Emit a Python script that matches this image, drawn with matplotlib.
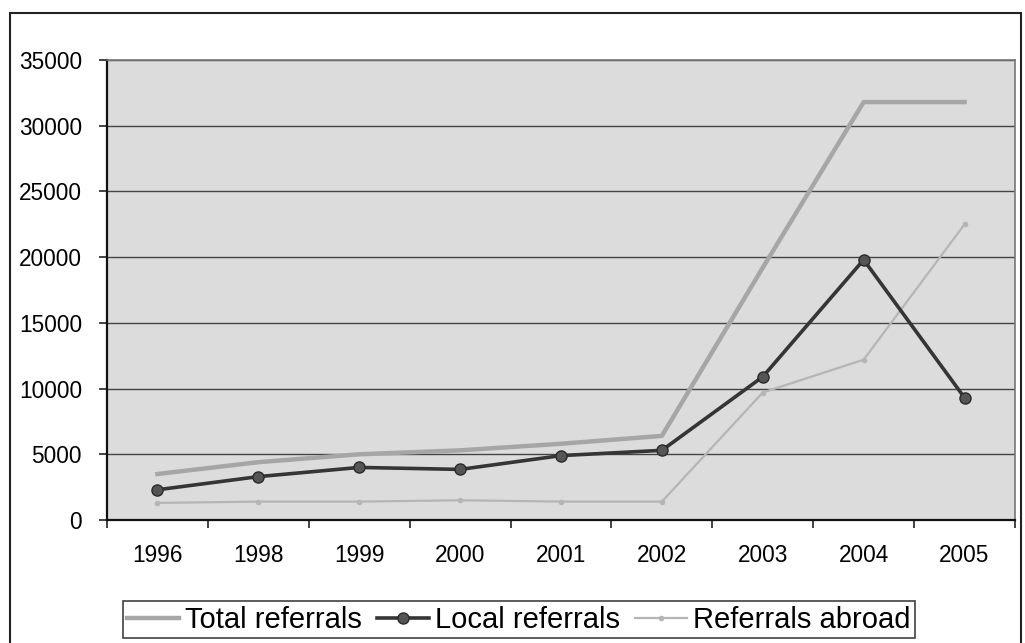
import matplotlib.pyplot as plt
from matplotlib.patches import Rectangle

plt.rcParams['font.family'] = ['Liberation Sans', 'DejaVu Sans']

# valeurs
years = ["1996", "1998", "1999", "2000", "2001", "2002", "2003", "2004", "2005"]
total_referrals = [3500, 4400, 5000, 5300, 5800, 6400, 19200, 31800, 31800]
local_referrals = [2300, 3300, 4000, 3850, 4900, 5300, 10900, 19800, 9300]
referrals_abroad = [1300, 1400, 1400, 1500, 1400, 1400, 9700, 12200, 22500]
yticks = [0, 5000, 10000, 15000, 20000, 25000, 30000, 35000]

fig = plt.figure(figsize=(10.25, 6.43), dpi=100)
ax = fig.add_axes([107 / 1025, 1 - 520 / 643, 908 / 1025, 460 / 643])

x = list(range(len(years)))
ax.set_facecolor("#dcdcdc")
ax.plot(x, total_referrals, color="#a6a6a6", lw=3.2, label="Total referrals", zorder=3)
ax.plot(x, local_referrals, color="#353535", lw=2.6, marker="o", ms=8,
        mfc="#555555", mec="#2a2a2a", label="Local referrals", zorder=4)
ax.plot(x, referrals_abroad, color="#b5b5b5", lw=1.6, marker="o", ms=3,
        mfc="#b5b5b5", mec="#b5b5b5", label="Referrals abroad", zorder=3)

ax.set_xlim(-0.5, len(years) - 0.5)
ax.set_ylim(0, 35000)
ax.set_yticks(yticks)
ax.set_yticklabels([str(v) for v in yticks])
ax.set_xticks([i - 0.5 for i in range(len(years) + 1)])
ax.set_xticklabels([])
ax.set_xticks(x, minor=True)
ax.set_xticklabels(years, minor=True)
ax.tick_params(axis="x", which="minor", length=0, labelsize=16.3, pad=17)
ax.tick_params(axis="x", which="major", length=6, width=1.2, color="#222222")
ax.tick_params(axis="y", length=6, width=1.2, color="#222222", labelsize=16.3, pad=12)

ax.grid(axis="y", color="#444444", lw=1, zorder=1)
for side in ["top", "right"]:
    ax.spines[side].set_color("#777777")
    ax.spines[side].set_linewidth(1.2)
for side in ["left", "bottom"]:
    ax.spines[side].set_color("#111111")
    ax.spines[side].set_linewidth(1.6)

leg = fig.legend(loc="center", bbox_to_anchor=(0.506, 0.036), ncol=3,
                 fontsize=21, frameon=True, fancybox=False, handlelength=1.8,
                 handletextpad=0.2, columnspacing=0.5, borderpad=0.15,
                 borderaxespad=0)
leg.get_frame().set_edgecolor("#111111")
leg.get_frame().set_linewidth(1.2)

# cadre extérieur du graphique scanné
fig.patches.append(Rectangle((10 / 1025, -0.05), 1011 / 1025, 1 - 13 / 643 + 0.05,
                             transform=fig.transFigure, fill=False,
                             edgecolor="#222222", lw=1.5))

plt.savefig("out.png", dpi=100)
